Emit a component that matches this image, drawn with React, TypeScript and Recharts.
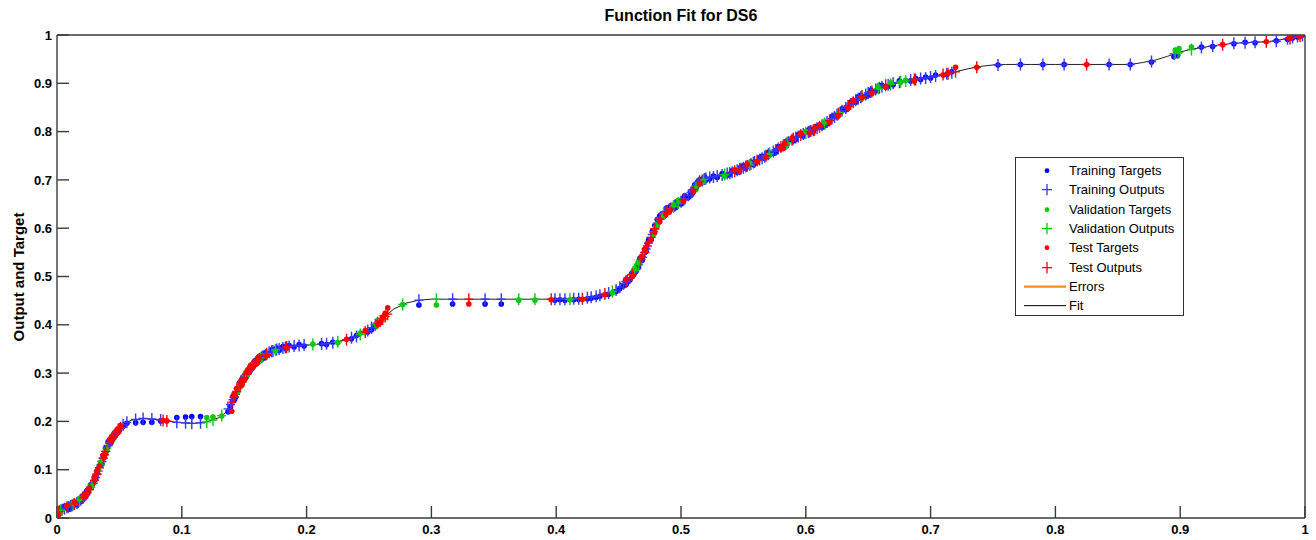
import React from "react";
import { ComposedChart, Line, Scatter, XAxis, YAxis, ErrorBar } from "recharts";

const xTicks = [0, 0.1, 0.2, 0.3, 0.4, 0.5, 0.6, 0.7, 0.8, 0.9, 1];
const yTicks = [0, 0.1, 0.2, 0.3, 0.4, 0.5, 0.6, 0.7, 0.8, 0.9, 1];

// fitted curve
const fitX = [
  0, 0.005, 0.01, 0.015, 0.02, 0.025, 0.03, 0.035, 0.04, 0.045, 0.05, 0.055, 0.06, 0.07, 0.08, 0.09, 0.1, 0.11, 0.12,
  0.13, 0.135, 0.14, 0.145, 0.15, 0.155, 0.16, 0.165, 0.17, 0.18, 0.19, 0.2, 0.21, 0.22, 0.23, 0.24, 0.245, 0.25,
  0.255, 0.26, 0.265, 0.27, 0.28, 0.29, 0.3, 0.32, 0.34, 0.36, 0.38, 0.4, 0.42, 0.43, 0.44, 0.45, 0.455, 0.46, 0.465,
  0.47, 0.475, 0.48, 0.485, 0.49, 0.495, 0.5, 0.505, 0.51, 0.515, 0.52, 0.53, 0.54, 0.55, 0.56, 0.57, 0.58, 0.59, 0.6,
  0.61, 0.62, 0.63, 0.64, 0.65, 0.66, 0.67, 0.68, 0.69, 0.7, 0.71, 0.72, 0.73, 0.74, 0.75, 0.76, 0.78, 0.8, 0.82, 0.84,
  0.86, 0.87, 0.88, 0.89, 0.9, 0.91, 0.92, 0.93, 0.94, 0.95, 0.96, 0.97, 0.98, 0.99, 1,
];
const fitY = [
  0.012, 0.018, 0.024, 0.03, 0.04, 0.055, 0.078, 0.11, 0.145, 0.168, 0.185, 0.197, 0.203, 0.206, 0.204, 0.2, 0.197, 0.196, 0.199,
  0.208, 0.218, 0.24, 0.268, 0.29, 0.31, 0.325, 0.335, 0.343, 0.352, 0.356, 0.358, 0.36, 0.363, 0.368, 0.376, 0.382, 0.39,
  0.4, 0.41, 0.422, 0.433, 0.445, 0.451, 0.453, 0.453, 0.453, 0.453, 0.453, 0.453, 0.454, 0.458, 0.464, 0.476, 0.487, 0.5, 0.52,
  0.545, 0.575, 0.605, 0.627, 0.638, 0.647, 0.655, 0.665, 0.68, 0.697, 0.703, 0.708, 0.715, 0.725, 0.738, 0.753, 0.768, 0.785, 0.797,
  0.808, 0.825, 0.845, 0.865, 0.88, 0.892, 0.9, 0.905, 0.909, 0.913, 0.918, 0.924, 0.93, 0.935, 0.938, 0.939, 0.939, 0.939, 0.939, 0.939,
  0.939, 0.943, 0.948, 0.956, 0.965, 0.971, 0.975, 0.979, 0.982, 0.984, 0.985, 0.986, 0.99, 0.995, 1,
];

// training set
const trainX = [
  0.002, 0.006, 0.009, 0.012, 0.016, 0.019, 0.022, 0.024, 0.027, 0.031, 0.033, 0.036, 0.039, 0.041, 0.044, 0.047, 0.05, 0.053,
  0.056, 0.063, 0.069, 0.076, 0.083, 0.096, 0.103, 0.108, 0.115, 0.137, 0.139,
  0.141, 0.143, 0.146, 0.148, 0.151, 0.153, 0.156, 0.158, 0.161, 0.164, 0.167, 0.17, 0.173, 0.176, 0.178, 0.181, 0.183, 0.186, 0.19, 0.194, 0.198,
  0.212, 0.216, 0.221, 0.236, 0.24, 0.249, 0.252, 0.255, 0.29,
  0.317, 0.343, 0.356, 0.399, 0.403, 0.407, 0.414, 0.418, 0.425, 0.428, 0.432, 0.435, 0.442, 0.448,
  0.451, 0.454, 0.457, 0.459, 0.462, 0.464, 0.467, 0.469, 0.472, 0.474, 0.477, 0.479, 0.481, 0.484, 0.487, 0.489, 0.492, 0.495, 0.497, 0.5,
  0.503, 0.506, 0.508, 0.511, 0.514, 0.517, 0.52, 0.523, 0.526, 0.529,
  0.533, 0.537, 0.541, 0.545, 0.548, 0.552, 0.556, 0.559, 0.563, 0.567, 0.57, 0.574, 0.578, 0.582, 0.586, 0.59, 0.594, 0.598, 0.602, 0.606,
  0.609, 0.613, 0.617, 0.621, 0.625, 0.629, 0.632, 0.636, 0.64, 0.644, 0.648, 0.652, 0.656, 0.661, 0.666,
  0.684, 0.688, 0.692, 0.696, 0.7, 0.704, 0.713, 0.717, 0.754,
  0.772, 0.79, 0.807, 0.843, 0.86, 0.877, 0.895, 0.898,
  0.917, 0.926, 0.943, 0.952, 0.96, 0.977, 0.986, 0.99, 0.994, 0.998,
  0.004, 0.011, 0.017, 0.023, 0.029, 0.032, 0.037, 0.043, 0.046,
  0.142, 0.149, 0.154, 0.159, 0.165, 0.172,
  0.456, 0.461, 0.466, 0.471, 0.476, 0.483, 0.488, 0.494, 0.502, 0.509, 0.513, 0.519,
  0.539, 0.55, 0.558, 0.565, 0.576, 0.584, 0.592, 0.604, 0.615, 0.623, 0.634, 0.642, 0.65, 0.659, 0.67, 0.675,
];
const trainTarget = [
  0.01, 0.024, 0.018, 0.031, 0.027, 0.034, 0.05, 0.057, 0.068, 0.08, 0.102, 0.112, 0.145, 0.158, 0.16, 0.172, 0.182, 0.19,
  0.196, 0.197, 0.198, 0.198, 0.201, 0.208, 0.209, 0.21, 0.21, 0.22, 0.229,
  0.252, 0.25, 0.279, 0.286, 0.29, 0.307, 0.309, 0.323, 0.331, 0.33, 0.342, 0.34, 0.349, 0.352, 0.347, 0.355, 0.351, 0.357, 0.354, 0.359, 0.356,
  0.361, 0.359, 0.364, 0.371, 0.378, 0.385, 0.39, 0.397, 0.441,
  0.443, 0.443, 0.443, 0.451, 0.452, 0.451, 0.452, 0.453, 0.454, 0.455, 0.457, 0.459, 0.463, 0.469,
  0.475, 0.481, 0.489, 0.493, 0.503, 0.511, 0.537, 0.534, 0.552, 0.575, 0.593, 0.606, 0.618, 0.628, 0.626, 0.642, 0.647, 0.642, 0.655, 0.65,
  0.667, 0.664, 0.668, 0.69, 0.698, 0.702, 0.7, 0.702, 0.708, 0.705,
  0.713, 0.71, 0.719, 0.716, 0.727, 0.724, 0.737, 0.734, 0.746, 0.745, 0.757, 0.755, 0.769, 0.768, 0.782, 0.781, 0.794, 0.791, 0.803, 0.8,
  0.811, 0.809, 0.816, 0.831, 0.831, 0.847, 0.845, 0.861, 0.861, 0.875, 0.873, 0.886, 0.884, 0.896, 0.894,
  0.905, 0.91, 0.908, 0.913, 0.911, 0.917, 0.918, 0.924, 0.938,
  0.939, 0.939, 0.939, 0.939, 0.939, 0.944, 0.955, 0.958,
  0.975, 0.976, 0.982, 0.985, 0.984, 0.988, 0.991, 0.994, 0.996, 1,
  0.021, 0.022, 0.036, 0.044, 0.076, 0.095, 0.129, 0.155, 0.176,
  0.244, 0.292, 0.301, 0.326, 0.331, 0.348,
  0.483, 0.508, 0.519, 0.556, 0.576, 0.625, 0.64, 0.641, 0.663, 0.672, 0.695, 0.706,
  0.711, 0.729, 0.732, 0.749, 0.758, 0.779, 0.784, 0.805, 0.812, 0.834, 0.849, 0.872, 0.876, 0.895, 0.897, 0.905,
];
const trainOutput = [
  0.014, 0.019, 0.023, 0.026, 0.031, 0.038, 0.045, 0.052, 0.064, 0.084, 0.097, 0.117, 0.138, 0.15, 0.164, 0.175, 0.185, 0.193,
  0.198, 0.204, 0.206, 0.205, 0.203, 0.198, 0.197, 0.196, 0.197, 0.226, 0.235,
  0.245, 0.256, 0.272, 0.281, 0.294, 0.302, 0.313, 0.319, 0.327, 0.333, 0.338, 0.343, 0.346, 0.349, 0.35, 0.352, 0.353, 0.355, 0.356, 0.357, 0.358,
  0.36, 0.361, 0.363, 0.373, 0.376, 0.388, 0.394, 0.4, 0.451,
  0.453, 0.453, 0.453, 0.453, 0.453, 0.453, 0.454, 0.454, 0.456, 0.457, 0.459, 0.461, 0.466, 0.472,
  0.478, 0.485, 0.492, 0.497, 0.508, 0.516, 0.53, 0.54, 0.557, 0.569, 0.587, 0.599, 0.61, 0.623, 0.632, 0.636, 0.641, 0.647, 0.65, 0.655,
  0.661, 0.668, 0.674, 0.683, 0.694, 0.699, 0.703, 0.705, 0.706, 0.708,
  0.71, 0.713, 0.716, 0.72, 0.723, 0.728, 0.733, 0.737, 0.742, 0.748, 0.753, 0.759, 0.765, 0.771, 0.778, 0.785, 0.79, 0.795, 0.799, 0.803,
  0.807, 0.813, 0.82, 0.827, 0.835, 0.843, 0.849, 0.857, 0.865, 0.871, 0.877, 0.882, 0.887, 0.893, 0.897,
  0.907, 0.908, 0.91, 0.911, 0.913, 0.915, 0.92, 0.922, 0.938,
  0.939, 0.939, 0.939, 0.939, 0.939, 0.945, 0.961, 0.963,
  0.974, 0.977, 0.983, 0.984, 0.985, 0.987, 0.992, 0.995, 0.997, 0.999,
  0.017, 0.025, 0.033, 0.048, 0.072, 0.09, 0.124, 0.16, 0.171,
  0.25, 0.286, 0.306, 0.322, 0.335, 0.345,
  0.489, 0.504, 0.525, 0.55, 0.581, 0.619, 0.634, 0.645, 0.659, 0.677, 0.69, 0.702,
  0.714, 0.725, 0.736, 0.745, 0.762, 0.774, 0.788, 0.801, 0.816, 0.83, 0.853, 0.868, 0.88, 0.891, 0.9, 0.902,
];

// validation set
const valX = [
  0.003, 0.018, 0.028, 0.035, 0.04, 0.12, 0.125, 0.132, 0.145, 0.155, 0.163, 0.175, 0.205, 0.225, 0.243, 0.256, 0.277, 0.304,
  0.37, 0.383, 0.411, 0.445, 0.466, 0.478, 0.486, 0.498, 0.512, 0.535, 0.571, 0.6, 0.627, 0.658, 0.676, 0.68, 0.896, 0.899, 0.909,
  0.013, 0.045, 0.151, 0.168, 0.463, 0.481, 0.494, 0.518, 0.555, 0.585, 0.615, 0.645, 0.668,
];
const valTarget = [
  0.012, 0.04, 0.066, 0.116, 0.14, 0.208, 0.209, 0.211, 0.262, 0.316, 0.327, 0.345, 0.36, 0.363, 0.383, 0.399, 0.442, 0.441,
  0.451, 0.451, 0.452, 0.466, 0.531, 0.587, 0.624, 0.658, 0.68, 0.708, 0.751, 0.8, 0.836, 0.892, 0.902, 0.906, 0.968, 0.972, 0.975,
  0.031, 0.164, 0.3, 0.337, 0.517, 0.604, 0.648, 0.697, 0.735, 0.773, 0.82, 0.869, 0.901,
];
const valOutput = [
  0.016, 0.036, 0.069, 0.11, 0.145, 0.199, 0.203, 0.212, 0.268, 0.31, 0.331, 0.348, 0.359, 0.365, 0.38, 0.402, 0.442, 0.453,
  0.453, 0.453, 0.453, 0.469, 0.525, 0.593, 0.63, 0.652, 0.687, 0.711, 0.755, 0.797, 0.839, 0.889, 0.903, 0.905, 0.962, 0.964, 0.97,
  0.028, 0.168, 0.294, 0.34, 0.512, 0.61, 0.645, 0.701, 0.731, 0.777, 0.816, 0.873, 0.898,
];

// test set
const testX = [
  0.001, 0.008, 0.014, 0.021, 0.026, 0.03, 0.034, 0.037, 0.038, 0.042, 0.045, 0.048, 0.051, 0.085, 0.088,
  0.14, 0.144, 0.147, 0.15, 0.152, 0.157, 0.16, 0.168, 0.184, 0.232, 0.247, 0.259, 0.261, 0.263, 0.265,
  0.33, 0.396, 0.421, 0.439, 0.456, 0.461, 0.468, 0.471, 0.476, 0.483, 0.491, 0.502, 0.51,
  0.543, 0.561, 0.58, 0.596, 0.611, 0.619, 0.634, 0.645, 0.664, 0.71, 0.72, 0.737, 0.825, 0.934, 0.969, 0.988, 0.996,
  0.024, 0.032, 0.039, 0.044, 0.049, 0.142, 0.148, 0.155, 0.162, 0.257,
  0.473, 0.479, 0.488, 0.515, 0.547, 0.553, 0.568, 0.583, 0.589, 0.603, 0.607, 0.626, 0.638, 0.653, 0.687, 0.714,
];
const testTarget = [
  0.006, 0.026, 0.033, 0.046, 0.062, 0.085, 0.108, 0.13, 0.126, 0.162, 0.165, 0.182, 0.191, 0.202, 0.201,
  0.221, 0.268, 0.282, 0.285, 0.302, 0.312, 0.32, 0.336, 0.352, 0.37, 0.388, 0.404, 0.416, 0.424, 0.435,
  0.443, 0.452, 0.453, 0.462, 0.494, 0.5, 0.541, 0.556, 0.576, 0.614, 0.636, 0.656, 0.676,
  0.721, 0.737, 0.764, 0.797, 0.814, 0.819, 0.849, 0.87, 0.892, 0.917, 0.933, 0.933, 0.939, 0.98, 0.986, 0.994, 0.997,
  0.049, 0.097, 0.133, 0.169, 0.178, 0.257, 0.275, 0.314, 0.333, 0.4,
  0.568, 0.592, 0.629, 0.692, 0.718, 0.733, 0.747, 0.776, 0.787, 0.797, 0.808, 0.833, 0.865, 0.879, 0.905, 0.922,
];
const testOutput = [
  0.013, 0.022, 0.029, 0.042, 0.059, 0.078, 0.104, 0.124, 0.131, 0.155, 0.168, 0.178, 0.187, 0.202, 0.201,
  0.24, 0.262, 0.276, 0.29, 0.298, 0.316, 0.325, 0.339, 0.354, 0.369, 0.385, 0.408, 0.412, 0.417, 0.422,
  0.453, 0.453, 0.454, 0.464, 0.49, 0.504, 0.535, 0.55, 0.581, 0.619, 0.64, 0.659, 0.68,
  0.718, 0.74, 0.768, 0.793, 0.81, 0.823, 0.853, 0.873, 0.896, 0.918, 0.924, 0.933, 0.939, 0.98, 0.986, 0.993, 0.998,
  0.052, 0.091, 0.138, 0.164, 0.183, 0.251, 0.281, 0.31, 0.329, 0.404,
  0.563, 0.599, 0.634, 0.697, 0.722, 0.729, 0.75, 0.772, 0.783, 0.8, 0.804, 0.837, 0.861, 0.883, 0.908, 0.92,
];

const FONT = "'Liberation Sans', Arial, Helvetica, sans-serif";
const AXIS = "#3a3a3a";
const BLUE = "#0000ff";
const BLUE_PLUS = "#3535ff";
const GREEN = "#10c810";
const RED = "#ff0000";
const ORANGE = "#ff8c1a";

const build = (xs: number[], ts: number[], os: number[]) =>
  xs.map((x, i) => ({
    x,
    target: ts[i],
    output: os[i],
    err: [Math.max(0, os[i] - ts[i]), Math.max(0, ts[i] - os[i])],
  }));

const fitData = fitX.map((x, i) => ({ x, y: fitY[i] }));
const trainData = build(trainX, trainTarget, trainOutput);
const valData = build(valX, valTarget, valOutput);
const testData = build(testX, testTarget, testOutput);

const plusShape = (color: string) => (props: any) => {
  const { cx, cy } = props;
  if (cx == null || cy == null) return <g />;
  return (
    <path
      d={`M${cx - 4.5},${cy}H${cx + 4.5}M${cx},${cy - 6}V${cy + 6}`}
      stroke={color}
      strokeWidth={1.4}
      fill="none"
    />
  );
};

const dotShape = (color: string) => (props: any) => {
  const { cx, cy } = props;
  if (cx == null || cy == null) return <g />;
  return <circle cx={cx} cy={cy} r={2.8} fill={color} />;
};

const tickStyle = { fill: "#000", fontSize: 13, fontWeight: "bold", fontFamily: FONT };

function LegendBox() {
  const items = [
    { label: "Training Targets", kind: "dot", color: BLUE },
    { label: "Training Outputs", kind: "plus", color: BLUE_PLUS },
    { label: "Validation Targets", kind: "dot", color: GREEN },
    { label: "Validation Outputs", kind: "plus", color: GREEN },
    { label: "Test Targets", kind: "dot", color: RED },
    { label: "Test Outputs", kind: "plus", color: RED },
    { label: "Errors", kind: "line", color: ORANGE },
    { label: "Fit", kind: "line", color: "#000" },
  ];
  return (
    <div
      style={{
        position: "absolute",
        left: 1015,
        top: 157,
        width: 167,
        height: 157,
        border: "1px solid #333",
        background: "#fff",
        fontFamily: FONT,
        fontSize: 13,
        color: "#000",
      }}
    >
      {items.map((it, i) => (
        <div key={it.label} style={{ position: "absolute", left: 0, top: 3 + i * 19.3, height: 19.3, width: 167 }}>
          <svg width={52} height={19.3} style={{ position: "absolute", left: 0, top: 0 }}>
            {it.kind === "dot" && <circle cx={31} cy={9.65} r={2.4} fill={it.color} />}
            {it.kind === "plus" && (
              <path d="M26,9.65H36M31,4V15.3" stroke={it.color} strokeWidth={1.3} fill="none" />
            )}
            {it.kind === "line" && (
              <line x1={8} x2={50} y1={9.65} y2={9.65} stroke={it.color} strokeWidth={it.label === "Errors" ? 2.2 : 1} />
            )}
          </svg>
          <span style={{ position: "absolute", left: 53, top: 0, lineHeight: "19.3px", whiteSpace: "nowrap" }}>
            {it.label}
          </span>
        </div>
      ))}
    </div>
  );
}

export default function App() {
  return (
    <div style={{ position: "absolute", left: 0, top: 0, width: 1316, height: 540, background: "#fff" }}>
      <ComposedChart width={1316} height={540} margin={{ top: 34, right: 10, bottom: 0, left: 0 }}>
        <XAxis
          dataKey="x"
          type="number"
          domain={[0, 1]}
          ticks={xTicks}
          interval={0}
          height={22}
          tickSize={-12}
          tickMargin={19}
          tick={tickStyle}
          axisLine={{ stroke: AXIS, strokeWidth: 1.4 }}
          tickLine={{ stroke: AXIS, strokeWidth: 1.4 }}
          allowDataOverflow
        />
        <XAxis
          xAxisId="top"
          orientation="top"
          type="number"
          domain={[0, 1]}
          ticks={xTicks}
          interval={0}
          height={1}
          tickSize={-12}
          tick={false}
          axisLine={{ stroke: AXIS, strokeWidth: 1.4 }}
          tickLine={{ stroke: AXIS, strokeWidth: 1.4 }}
          allowDataOverflow
        />
        <YAxis
          type="number"
          domain={[0, 1]}
          ticks={yTicks}
          interval={0}
          width={57}
          tickSize={-12}
          tickMargin={17}
          tick={tickStyle}
          axisLine={{ stroke: AXIS, strokeWidth: 1.4 }}
          tickLine={{ stroke: AXIS, strokeWidth: 1.4 }}
          allowDataOverflow
        />
        <YAxis
          yAxisId="right"
          orientation="right"
          type="number"
          domain={[0, 1]}
          ticks={yTicks}
          interval={0}
          width={1}
          tickSize={-12}
          tick={false}
          axisLine={{ stroke: AXIS, strokeWidth: 1.4 }}
          tickLine={{ stroke: AXIS, strokeWidth: 1.4 }}
          allowDataOverflow
        />

        <Scatter data={trainData} dataKey="target" shape={dotShape(BLUE)} isAnimationActive={false} />
        <Scatter data={trainData} dataKey="output" shape={plusShape(BLUE_PLUS)} isAnimationActive={false}>
          <ErrorBar dataKey="err" direction="y" width={0} stroke={ORANGE} strokeWidth={1.5} />
        </Scatter>
        <Scatter data={valData} dataKey="target" shape={dotShape(GREEN)} isAnimationActive={false} />
        <Scatter data={valData} dataKey="output" shape={plusShape(GREEN)} isAnimationActive={false}>
          <ErrorBar dataKey="err" direction="y" width={0} stroke={ORANGE} strokeWidth={1.5} />
        </Scatter>
        <Scatter data={testData} dataKey="target" shape={dotShape(RED)} isAnimationActive={false} />
        <Scatter data={testData} dataKey="output" shape={plusShape(RED)} isAnimationActive={false}>
          <ErrorBar dataKey="err" direction="y" width={0} stroke={ORANGE} strokeWidth={1.5} />
        </Scatter>
        <Line
          data={fitData}
          dataKey="y"
          type="linear"
          dot={false}
          activeDot={false}
          stroke="#222"
          strokeWidth={1}
          isAnimationActive={false}
        />
      </ComposedChart>

      <div
        style={{
          position: "absolute",
          left: 681,
          top: 7,
          transform: "translateX(-50%)",
          fontFamily: FONT,
          fontWeight: "bold",
          fontSize: 16,
          whiteSpace: "nowrap",
          color: "#000",
        }}
      >
        Function Fit for DS6
      </div>
      <div
        style={{
          position: "absolute",
          left: 18,
          top: 277,
          transform: "translate(-50%, -50%) rotate(-90deg)",
          fontFamily: FONT,
          fontWeight: "bold",
          fontSize: 15,
          whiteSpace: "nowrap",
          color: "#000",
        }}
      >
        Output and Target
      </div>
      <LegendBox />
    </div>
  );
}
